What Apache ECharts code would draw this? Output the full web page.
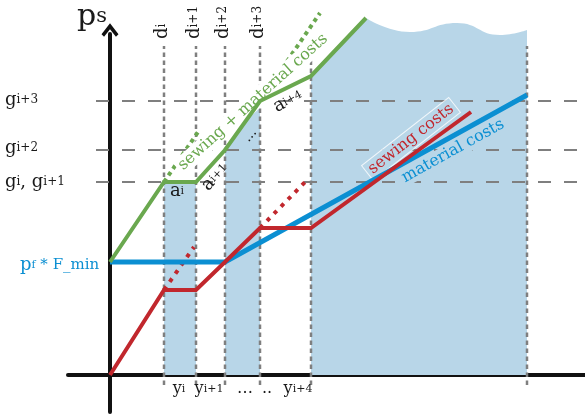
<!DOCTYPE html>
<html><head><meta charset="utf-8">
<script src="https://cdn.jsdelivr.net/npm/echarts@6/dist/echarts.min.js"></script>
<style>html,body{margin:0;padding:0;background:#fff}#chart{width:585px;height:415px}</style>
</head><body><div id="chart"></div>
<script>
// x: quantity to the right of the origin, y: price level above the origin
const dBreaks = [54, 86, 115, 150];          // d_i .. d_i+3
const bandBorders = [201, 417];              // start/end of the last shaded band
const gLevels = [193, 225, 274];             // g_i(=g_i+1), g_i+2, g_i+3
const pfFmin = 113;                          // p_f * F_min

// sewing + material costs
const totalX = [0, 54, 86, 115, 150, 201, 256];
const totalY = [113, 193, 193, 225, 274, 299, 357];
// sewing costs
const sewingX = [0, 54, 86, 115, 150, 201, 361];
const sewingY = [0, 85, 85, 113, 147, 147, 263];
// material costs
const materialX = [0, 115, 417];
const materialY = [113, 113, 280];
// dotted continuations (no discount)
const totalExtX = [[54, 88], [150, 210]];
const totalExtY = [[193, 243], [274, 362]];
const sewingExtX = [[54, 84], [150, 198]];
const sewingExtY = [[85, 128], [147, 196]];
// open upper edge of the last band
const waveX = [256, 300, 347, 390, 417];
const waveY = [357, 343, 352, 340, 345];

// tick-like labels
const levelLabels = ['{g|g}{s|i+3}', '{g|g}{s|i+2}', '{g|g}{s|i}{g|, g}{s|i+1}'];
const levelLabelY = [275, 227, 193];
const dLabels = ['{g|d}{s|i}', '{g|d}{s|i+1}', '{g|d}{s|i+2}', '{g|d}{s|i+3}'];
const yLabels = ['{g|y}{s|i}', '{g|y}{s|i+1}', '{g|…}', '{g|..}', '{g|y}{s|i+4}'];
const yLabelX = [69, 99, 135, 157, 188];
const aLabels = ['{g|a}{s|i}', '{g|a}{s|i+1}', '{g|...}', '{g|a}{s|i+4}'];

const GREEN = '#6aa84f', RED = '#c1272d', BLUE = '#0b8fd2', FILL = '#b8d6e8', GRAY = '#7f7f7f';
const INK = '#1a1a1a';
const FONT = 'DejaVu Serif';

const pts = (xs, ys) => xs.map((x, i) => [x, ys[i]]);
const rich = (big, small, color) => ({
  g: {fontSize: big, fontFamily: FONT, color: color},
  s: {fontSize: small, fontFamily: FONT, color: color}
});

const series = [];

// shaded bands, topped by the total-cost line
function band(data, smooth) {
  series.push({type: 'line', data: data, smooth: smooth, symbol: 'none', clip: false, z: 1,
    lineStyle: {width: 0}, areaStyle: {color: FILL, opacity: 1}, silent: true});
}
band(pts(totalX.slice(1, 3), totalY.slice(1, 3)), false);
band(pts(totalX.slice(3, 5), totalY.slice(3, 5)), false);
band(pts(totalX.slice(5, 7), totalY.slice(5, 7)).concat([[260, 353]]), false);
band(pts(waveX, waveY), true);

// vertical dotted guides
dBreaks.concat(bandBorders).forEach(d => {
  series.push({type: 'line', data: [[d, -10], [d, 329]], symbol: 'none', clip: false, z: 2,
    lineStyle: {color: GRAY, width: 2.5, type: [4.5, 3.5]}});
});
// horizontal dashed guides
gLevels.forEach(g => {
  series.push({type: 'line', data: [[-14, g], [475, g]], symbol: 'none', clip: false, z: 2,
    lineStyle: {color: GRAY, width: 2, type: [13, 13]}});
});

// dotted continuations
totalExtX.forEach((xs, i) => series.push({type: 'line', data: pts(xs, totalExtY[i]), symbol: 'none',
  clip: false, z: 3, lineStyle: {color: GREEN, width: 4, type: [4, 4]}}));
sewingExtX.forEach((xs, i) => series.push({type: 'line', data: pts(xs, sewingExtY[i]), symbol: 'none',
  clip: false, z: 3, lineStyle: {color: RED, width: 4, type: [4, 6]}}));

// text labels
const labels = [];
function lab(x, y, text, opt) {
  labels.push({value: [x, y], label: Object.assign({show: true, formatter: text, position: 'inside',
    align: 'center', verticalAlign: 'middle'}, opt)});
}
lab(-18, 358, '{g|p}{s|s}', {rich: rich(30, 21, INK)});
levelLabels.forEach((t, i) => lab(-105, levelLabelY[i], t, {align: 'left', rich: rich(18, 12, INK)}));
lab(-90, 110, '{g|p}{s|f}{m| * F_min}', {align: 'left', rich: Object.assign(rich(18, 11, BLUE),
  {m: {fontSize: 15, fontFamily: FONT, color: BLUE}})});
dLabels.forEach((t, i) => lab(dBreaks[i] - 2, 336, t, {align: 'left', rotate: 90, rich: rich(18, 12, INK)}));
yLabels.forEach((t, i) => lab(yLabelX[i], -14, t, {rich: rich(16, 11, INK)}));
lab(67, 184, aLabels[0], {rich: rich(18, 11, INK)});
lab(105, 198, aLabels[1], {rotate: 48, rich: rich(18, 11, INK)});
lab(140, 240, aLabels[2], {rotate: 50, rich: rich(14, 11, INK)});
lab(178, 274, aLabels[3], {rotate: 28, rich: rich(18, 11, INK)});
lab(143, 273, 'sewing + material costs', {rotate: 42, color: GREEN, fontFamily: FONT, fontSize: 16,
  backgroundColor: '#fff', padding: [1, 3]});
lab(301, 236, 'sewing costs', {rotate: 38, color: RED, fontFamily: FONT, fontSize: 16,
  backgroundColor: FILL, borderColor: 'rgba(255,255,255,0.8)', borderWidth: 1, padding: [1, 3]});
lab(343, 224, 'material costs', {rotate: 29, color: BLUE, fontFamily: FONT, fontSize: 16,
  backgroundColor: FILL, padding: [1, 3]});
series.push({type: 'scatter', data: labels, symbolSize: 0.1,
  itemStyle: {color: 'rgba(0,0,0,0)', opacity: 1},
  clip: false, z: 4, silent: true});

// cost curves
series.push({type: 'line', data: pts(materialX, materialY), symbol: 'none', clip: false, z: 5,
  lineStyle: {color: BLUE, width: 5, join: 'miter'}});
series.push({type: 'line', data: pts(sewingX, sewingY), symbol: 'none', clip: false, z: 5,
  lineStyle: {color: RED, width: 4, join: 'miter'}});
series.push({type: 'line', data: pts(totalX, totalY), symbol: 'none', clip: false, z: 5,
  lineStyle: {color: GREEN, width: 4, join: 'miter'}});

const chart = echarts.init(document.getElementById('chart'), null, {renderer: 'canvas'});
chart.setOption({
  animation: false,
  grid: {left: 68, right: 0, top: 34, bottom: 3},
  xAxis: {type: 'value', min: -42, max: 475,
    axisLine: {show: true, onZero: true, lineStyle: {color: '#111', width: 4}},
    axisTick: {show: false}, axisLabel: {show: false}, splitLine: {show: false}},
  yAxis: {type: 'value', min: -37, max: 341,
    axisLine: {show: true, onZero: true, symbol: ['none', 'path://M10,0 L20,13 L17,16 L10,7 L3,16 L0,13 Z'],
      symbolSize: [17, 15], symbolOffset: [0, 4], lineStyle: {color: '#111', width: 4}},
    axisTick: {show: false}, axisLabel: {show: false}, splitLine: {show: false}},
  series: series
});
</script></body></html>
